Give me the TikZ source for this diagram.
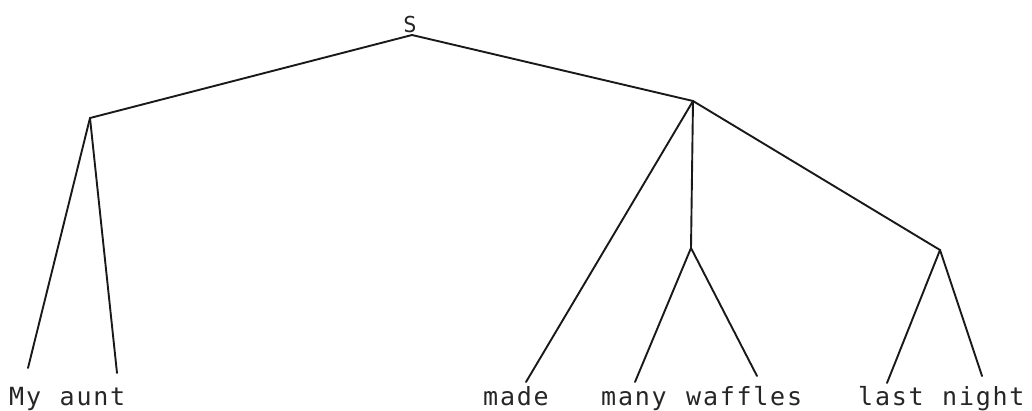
\documentclass[tikz,border=0pt]{standalone}
\usepackage{fontspec}
\newfontfamily\leaffont[LetterSpace=7]{DejaVu Sans Mono}
\newfontfamily\rootfont{DejaVu Sans Mono}
\begin{document}
\begin{tikzpicture}[x=1pt,y=-1pt,
  edge/.style={line width=1.9pt,draw=black!90,line cap=round},
  leaf/.style={anchor=base west,inner sep=0pt,text=black!85,font=\leaffont\fontsize{25}{29}\selectfont},
  rootlab/.style={inner sep=0pt,text=black!85,font=\rootfont\fontsize{22}{26}\selectfont}]
\useasboundingbox (0,0) rectangle (1032,410);
% labels
\node[rootlab,anchor=base] (S) at (410,32) {S};
\node[leaf] (my) at (9,405) {My};
\node[leaf] (aunt) at (59.5,405) {aunt};
\node[leaf] (made) at (483,405) {made};
\node[leaf] (many) at (601,405) {many};
\node[leaf] (waffles) at (686,405) {waffles};
\node[leaf] (last) at (858,405) {last};
\node[leaf] (night) at (942,405) {night};
% junctions
\coordinate (s) at (412,35);
\coordinate (np) at (90,118);
\coordinate (vp) at (693,101);
\coordinate (mid) at (691,248);
\coordinate (rt) at (940,250);
% leaf line ends
\coordinate (myE) at (28,368);
\coordinate (auntE) at (117,373);
\coordinate (madeE) at (526,382);
\coordinate (manyE) at (635,382);
\coordinate (wafE) at (757,376);
\coordinate (lastE) at (887,383);
\coordinate (nightE) at (982,376);
% edges
\draw[edge] (np) -- (s) -- (vp);
\draw[edge] (np) -- (myE);
\draw[edge] (np) -- (auntE);
\draw[edge] (vp) -- (madeE);
\draw[edge] (vp) -- (mid);
\draw[edge] (vp) -- (rt);
\draw[edge] (mid) -- (manyE);
\draw[edge] (mid) -- (wafE);
\draw[edge] (rt) -- (lastE);
\draw[edge] (rt) -- (nightE);
\end{tikzpicture}
\end{document}
